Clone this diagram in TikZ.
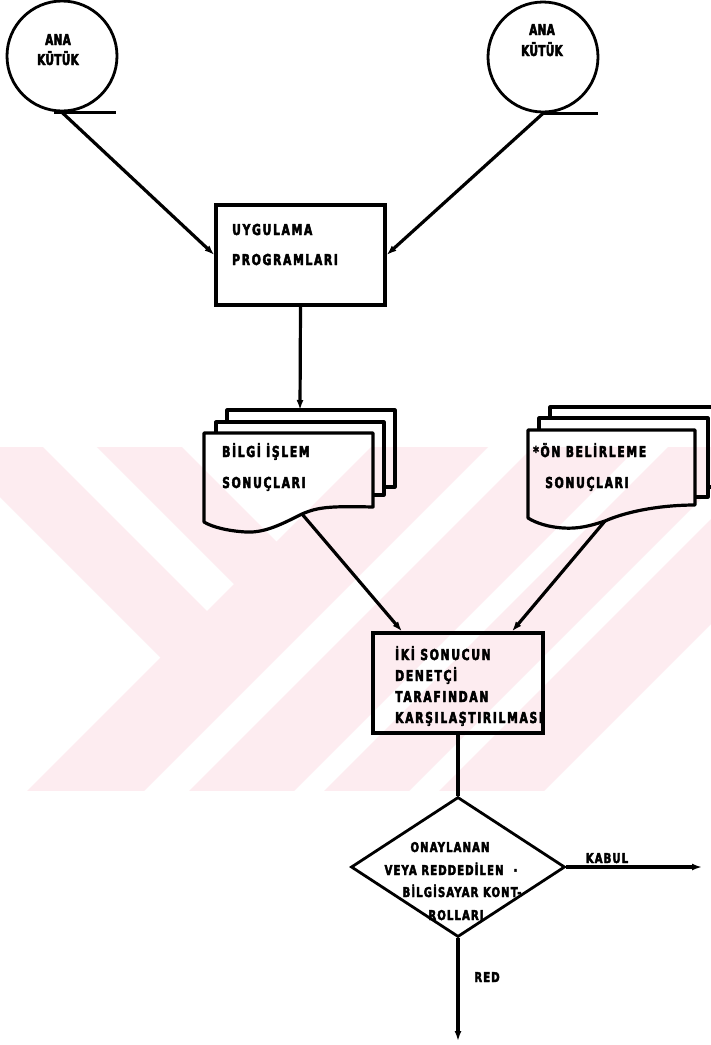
\documentclass[tikz,border=0pt]{standalone}
\usepackage{fontspec}
\usetikzlibrary{arrows.meta,shapes.geometric}
\newfontfamily\labfont{DejaVu Sans Bold}[FakeStretch=0.72,LetterSpace=11,FakeBold=3]
\newfontfamily\narrowfont{DejaVu Sans Bold}[FakeStretch=0.7,LetterSpace=2,FakeBold=3]
\newfontfamily\smallfont{DejaVu Sans Bold}[FakeStretch=0.75,LetterSpace=8,FakeBold=3]
\definecolor{wm}{RGB}{253,236,240}
\begin{document}
\begin{tikzpicture}[x=1pt,y=-1pt,
  line/.style={line width=3.2pt,line join=round},
  arr/.style={line width=3.2pt,-{Latex[length=10pt,width=7pt]}},
  box/.style={draw,line width=3.2pt,rectangle,inner sep=0pt},
  ring/.style={draw,circle,line width=2.8pt,inner sep=0pt,minimum size=110pt},
  wlab/.style={inner sep=0pt,anchor=base west,font=\labfont\fontsize{15}{17}\selectfont},
  clab/.style={inner sep=0pt,anchor=base,font=\narrowfont\fontsize{15}{17}\selectfont},
  dlab/.style={inner sep=0pt,anchor=base,font=\smallfont\fontsize{13.5}{15}\selectfont},
  band/.style={fill=wm,draw=none}]
\useasboundingbox (0,0) rectangle (711,1045);
\fill[white] (0,0) rectangle (711,1045);

% pale background emblem
\begin{scope}
  \clip (0,447) rectangle (711,790);
  % falling bands (y - x constant), upper left part only
  \begin{scope}
    \clip (-100,1030) -- (1030,-100) -- (-100,-100) -- cycle;
    \foreach \a/\b in {265/350,404/497}
      \fill[band] (-50,-50+\a) -- (800,800+\a) -- (800,800+\b) -- (-50,-50+\b) -- cycle;
  \end{scope}
  % rising bands (x + y constant)
  \foreach \a/\b in {818/935,980/1085,1115/1200,1230/1335}
    \fill[band] (-50,\a+50) -- (800,\a-800) -- (800,\b-800) -- (-50,\b+50) -- cycle;
\end{scope}

% master files
\node[ring] (c1) at (62,56) {};
\node[clab] (c1a) at (58,45) {ANA};
\node[clab] (c1b) at (58,65) {KÜTÜK};
\draw[line] ([xshift=-8pt]c1.south) -- ++(62,0);

\node[ring] (c2) at (543,57) {};
\node[clab] (c2a) at (542,35) {ANA};
\node[clab] (c2b) at (542,56) {KÜTÜK};
\draw[line] ([xshift=-1pt]c2.south) -- ++(56,0);

% application programs
\node[box,minimum width=169pt,minimum height=100pt] (u) at (300.5,255) {};
\node[wlab] (u1) at (232,235) {UYGULAMA};
\node[wlab] (u2) at (232,265) {PROGRAMLARI};

\draw[arr] (c1.south) -- (u.west);
\draw[arr] (c2.south) -- (u.east);

% processing results (document stack)
\draw[line] (227,422) -- (227,410) -- (395,410) -- (395,487) -- (384,487);
\draw[line] (216,433) -- (216,422) -- (384,422) -- (384,495) -- (373,495);
\draw[line] (204,433) -- (373,433) -- (373,507)
  .. controls (330,506) and (318,507) .. (302,514) coordinate (d1out)
  .. controls (282,524) and (265,533) .. (246,532)
  .. controls (228,531) and (212,527) .. (204,522) -- cycle;
\coordinate (d1top) at (300,410);
\node[wlab] (d1a) at (222,457) {BİLGİ İŞLEM};
\node[wlab] (d1b) at (222,488) {SONUÇLARI};

\draw[arr] (u.south) -- (d1top);

% predetermined results (document stack)
\draw[line] (550,418) -- (550,407) -- (725,407);
\draw[line] (708,487) -- (725,487);
\draw[line] (539,430) -- (539,418) -- (708,418) -- (708,497) -- (695,497);
\draw[line] (528,430) -- (695,430) -- (695,505)
  .. controls (665,505) and (630,510) .. (605,521) coordinate (d2out)
  .. controls (590,526) and (578,529) .. (563,528)
  .. controls (548,527) and (536,523) .. (528,518) -- cycle;
\node[wlab] (d2a) at (533,457) {*ÖN BELİRLEME};
\node[wlab] (d2b) at (545,488) {SONUÇLARI};

% comparison by the auditor
\node[box,minimum width=170pt,minimum height=100pt] (k) at (458,683) {};
\node[wlab] (k1t) at (395,660) {İKİ SONUCUN};
\node[wlab] (k2t) at (395,681) {DENETÇİ};
\node[wlab] (k3t) at (395,702) {TARAFINDAN};
\node[wlab] (k4t) at (395,723) {KARŞILAŞTIRILMASI};
\coordinate (kin1) at ([xshift=-56pt]k.north);
\coordinate (kin2) at ([xshift=54pt]k.north);
\draw[arr] (d1out) -- (kin1);
\draw[arr] (d2out) -- (kin2);

% decision
\node[draw,diamond,line width=2.8pt,inner sep=0pt,minimum width=214pt,minimum height=140pt] (dm) at (458,867) {};
\draw[line] (k.south) -- (k.south |- dm.north);
\node[dlab] (dt1) at (450,852) {ONAYLANAN};
\node[dlab] (dt2) at (451,875) {VEYA REDDEDİLEN\hspace{10pt}·};
\node[dlab] (dt3) at (462,897) {BİLGİSAYAR KONT-};
\node[dlab] (dt4) at (456,920) {ROLLARI};

\coordinate (kend) at (702,867);
\coordinate (rend) at (458,1041);
\draw[arr] (dm.east) -- (kend);
\draw[arr] (dm.south) -- (rend);
\node[dlab] (kab) at (607,863) {KABUL};
\node[dlab] (red) at (487,982) {RED};
\end{tikzpicture}
\end{document}
